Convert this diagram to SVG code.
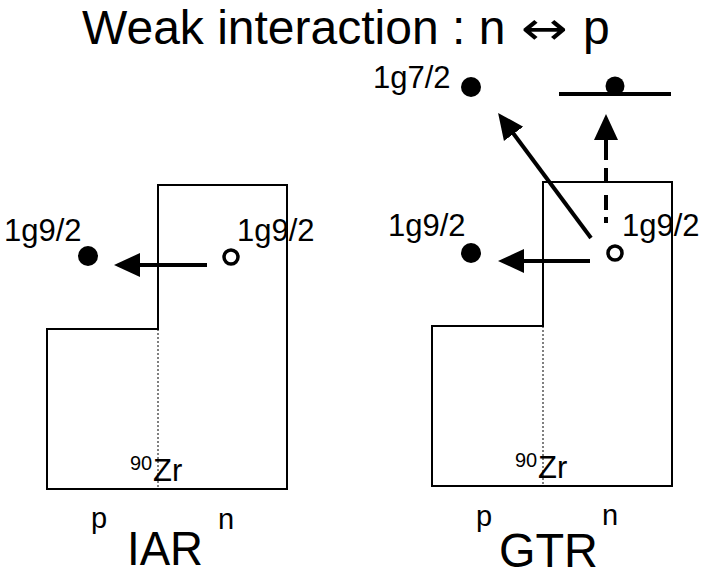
<svg xmlns="http://www.w3.org/2000/svg" width="702" height="572" viewBox="0 0 702 572">
<style>
text{font-family:"Liberation Sans",Arial,sans-serif;fill:#000}
.box{fill:none;stroke:#000;stroke-width:2}
.dot{stroke:#000;stroke-width:1;stroke-dasharray:2 2;fill:none}
.arr{stroke:#000;stroke-width:4;fill:none}
.lvl{font-size:31px}
.sm{font-size:29px}
.big{font-size:48px}
.ttl{font-size:48px}
</style>
<defs>
<marker id="ah" markerUnits="userSpaceOnUse" markerWidth="27" markerHeight="26" viewBox="0 -13 27 26" refX="1" refY="0" orient="auto">
<path d="M0,-12 L26,0 L0,12 Z" fill="#000"/>
</marker>
</defs>
<rect width="702" height="572" fill="#fff"/>
<g id="title">
<text class="ttl" x="82" y="44">Weak interaction : n</text>
<text x="521" y="44" font-size="46" style="font-family:'DejaVu Sans',sans-serif" textLength="47" lengthAdjust="spacingAndGlyphs">↔</text>
<text class="ttl" x="583" y="44">p</text>
</g>

<g id="iar">
<path class="box" d="M158,185 H287 V489 H47 V329 H158 Z"/>
<line class="dot" x1="158" y1="329" x2="158" y2="489"/>
<circle cx="88" cy="256" r="10" fill="#000"/>
<circle cx="231" cy="257" r="7" fill="#fff" stroke="#000" stroke-width="3.5"/>
<text class="lvl" x="4" y="241">1g9/2</text>
<text class="lvl" x="237" y="241">1g9/2</text>
<text x="130" y="470" font-size="20">90</text>
<text x="153" y="481" font-size="31">Zr</text>
<text class="sm" x="91" y="528">p</text>
<text class="sm" x="218" y="529">n</text>
<text class="big" x="127" y="565" textLength="76" lengthAdjust="spacingAndGlyphs">IAR</text>
</g>

<g id="gtr">
<path class="box" d="M543,182 H672 V486 H432 V326 H543 Z"/>
<line class="dot" x1="543" y1="326" x2="543" y2="486"/>
<circle cx="471" cy="253" r="10" fill="#000"/>
<circle cx="471" cy="87" r="10" fill="#000"/>
<circle cx="615" cy="86" r="9.5" fill="#000"/>
<line x1="559" y1="94" x2="671" y2="94" stroke="#000" stroke-width="4"/>
<circle cx="615" cy="253" r="7" fill="#fff" stroke="#000" stroke-width="3.5"/>
<text class="lvl" x="388" y="236">1g9/2</text>
<text class="lvl" x="622" y="236">1g9/2</text>
<text class="lvl" x="373" y="88">1g7/2</text>
<text x="515" y="467" font-size="20">90</text>
<text x="538" y="478" font-size="31">Zr</text>
<text class="sm" x="476" y="526">p</text>
<text class="sm" x="602" y="525">n</text>
<text class="big" x="499" y="567" textLength="99" lengthAdjust="spacingAndGlyphs">GTR</text>
</g>

<g id="connectors">
<line class="arr" x1="207" y1="265" x2="139" y2="265" marker-end="url(#ah)"/>
<line class="arr" x1="590" y1="261" x2="523" y2="261" marker-end="url(#ah)"/>
<line class="arr" x1="591" y1="238" x2="513" y2="133" marker-end="url(#ah)"/>
<line class="arr" x1="606" y1="223" x2="606" y2="139" stroke-dasharray="6 7 15 13 14 8 22 10" marker-end="url(#ah)"/>
</g>
</svg>
